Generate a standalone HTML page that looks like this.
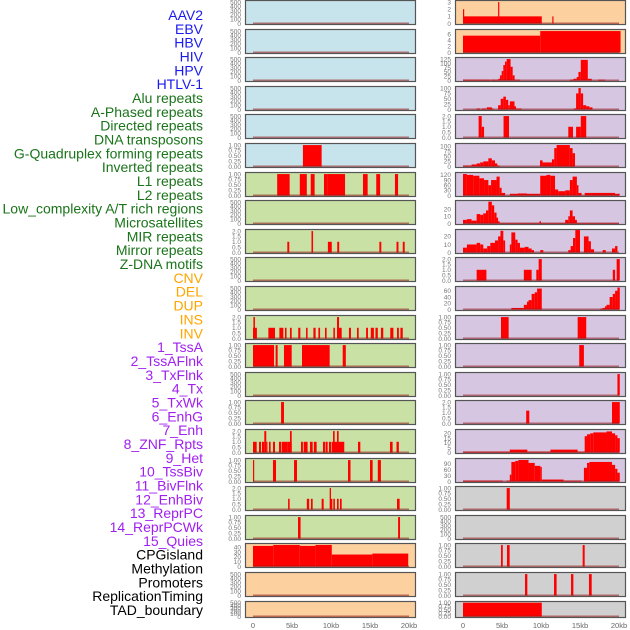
<!DOCTYPE html>
<html><head><meta charset="utf-8">
<style>
html,body{margin:0;padding:0;background:#fff;}
svg{display:block;font-family:"Liberation Sans",sans-serif;}
</style></head>
<body>
<svg id="chart" width="630" height="630" viewBox="0 0 630 630" xmlns="http://www.w3.org/2000/svg"></svg>
<script>
const trackLabels = ["AAV2","EBV","HBV","HIV","HPV","HTLV-1","Alu repeats","A-Phased repeats","Directed repeats","DNA transposons","G-Quadruplex forming repeats","Inverted repeats","L1 repeats","L2 repeats","Low_complexity A/T rich regions","Microsatellites","MIR repeats","Mirror repeats","Z-DNA motifs","CNV","DEL","DUP","INS","INV","1_TssA","2_TssAFlnk","3_TxFlnk","4_Tx","5_TxWk","6_EnhG","7_Enh","8_ZNF_Rpts","9_Het","10_TssBiv","11_BivFlnk","12_EnhBiv","13_ReprPC","14_ReprPCWk","15_Quies","CPGisland","Methylation","Promoters","ReplicationTiming","TAD_boundary"];
const labelGroups = ["v","v","v","v","v","v","r","r","r","r","r","r","r","r","r","r","r","r","r","c","c","c","c","c","s","s","s","s","s","s","s","s","s","s","s","s","s","s","s","o","o","o","o","o"];
const xTickValues = [0,5,10,15,20];
const xTickLabels = ["0","5kb","10kb","15kb","20kb"];

const T500 = [[0,"0"],[100,"100"],[200,"200"],[300,"300"],[400,"400"],[500,"500"]];
const T1 = [[0,"0.00"],[0.25,"0.25"],[0.5,"0.50"],[0.75,"0.75"],[1,"1.00"]];
const T2 = [[0,"0.0"],[0.5,"0.5"],[1,"1.0"],[1.5,"1.5"],[2,"2.0"]];

// left column panels: ymax, ticks, segments [startKb,endKb,value]
const leftYmax = [525,525,525,525,525,1.05,1.05,525,2.1,525,525,2.1,1.05,525,1.05,2.1,1.05,2.1,1.05,47,525,525];
const leftTicks = [T500,T500,T500,T500,T500,T1,T1,T500,T2,T500,T500,T2,T1,T500,T1,T2,T1,T2,T1,[[0,"0"],[10,"10"],[20,"20"],[30,"30"],[40,"40"]],T500,T500];
const leftSegs = [
[],[],[],[],[],
[[6.4,8.8,1]],
[[3.1,4.7,1],[6,6.9,1],[7.4,7.9,1],[9.1,9.6,1],[9.6,11.8,1],[14.1,14.7,1],[15.8,16.3,1],[18.2,18.6,1]],
[],
[[4.4,4.65,1],[7.5,7.7,2],[9.6,10.1,1],[10.8,11.05,1],[16.2,16.45,1],[18.4,18.65,1],[19.2,19.45,1]],
[],[],
[[0,0.5,1],[0.05,0.25,2],[1.97,2.82,1],[3.38,3.89,1],[4.1,4.3,1],[4.74,4.96,1],[5.8,6.07,1],[6.8,7.0,1],[7.74,8.03,1],[8.38,8.6,1],[9.23,9.44,1],[10.3,10.5,1],[10.77,11.37,1],[10.77,11.03,2],[12.3,12.56,1],[13.33,13.55,1],[14.5,14.74,1],[15.1,15.5,1],[15.7,16,1],[16.4,16.7,1],[17.6,18,1],[18.46,18.7,1],[18.9,19.2,1]],
[[0,2.7,1],[2.9,3.16,1],[3.97,4.96,1],[6.28,9.83,1],[11.5,11.9,1]],
[],
[[3.6,3.97,1]],
[[0,0.47,1],[0.77,1.03,1],[1.15,1.45,1],[1.45,1.7,2],[1.7,1.85,1],[2.05,2.26,1],[2.56,2.82,1],[3.33,3.6,1],[3.68,4.4,1],[4.4,4.96,1],[4.74,4.96,2],[6.15,6.4,1],[6.5,7,1],[7.3,7.65,1],[7.8,8.16,1],[8.97,9.23,1],[9.3,9.57,1],[9.74,10,1],[10.08,11.7,1],[10.26,10.47,2],[10.77,10.98,2],[13.46,13.76,1],[17.56,17.9,1],[18.4,18.7,1]],
[[0,0.15,1],[2.56,2.95,1],[5.26,5.64,1],[12.18,12.5,1],[15,15.34,1],[16,16.4,1]],
[[4.5,4.7,1],[6.9,7.2,1],[7.43,7.65,1],[8.8,9.06,1],[9.83,10,2],[10,10.17,1],[10.3,10.5,1],[10.77,10.98,1],[11.15,11.37,1],[18.46,18.8,1]],
[[5.77,6.1,1],[18.6,18.85,1]],
[[0,2.6,43],[2.6,6,45],[6,8,43],[8,10.1,45],[10.1,15.3,25],[15.3,19.9,27]],
[],[]
];

// right column panels
const rightYmax = [3.15,7.35,131,105,2.1,110,131,31,28,2.1,72,1.05,1.05,1.05,2.1,23.5,115,1.05,525,1.05,1.05,1.05];
const rightTicks = [
[[0,"0"],[1,"1"],[2,"2"],[3,"3"]],
[[0,"0"],[2,"2"],[4,"4"],[6,"6"]],
[[0,"0"],[25,"25"],[50,"50"],[75,"75"],[100,"100"],[125,"125"]],
[[0,"0"],[25,"25"],[50,"50"],[75,"75"],[100,"100"]],
T2,
[[0,"0"],[25,"25"],[50,"50"],[75,"75"],[100,"100"]],
[[0,"0"],[30,"30"],[60,"60"],[90,"90"],[120,"120"]],
[[0,"0"],[10,"10"],[20,"20"]],
[[0,"0"],[10,"10"],[20,"20"]],
T2,
[[0,"0"],[20,"20"],[40,"40"],[60,"60"]],
T1,T1,T1,T2,
[[0,"0"],[5,"5"],[10,"10"],[15,"15"],[20,"20"]],
[[0,"0"],[30,"30"],[60,"60"],[90,"90"]],
T1,T500,T1,T1,T1
];
const rightSegs = [
[[0,10.1,1],[0,0.15,2],[4.5,4.62,3],[11.45,11.6,1]],
[[0,9.9,5.5],[9.9,20.2,7]],
[[0,3.5,5],[3.6,4.53,5],[4.53,4.74,10],[4.74,4.96,30],[4.96,5.17,55],[5.17,5.38,90],[5.38,5.6,110],[5.6,6.1,125],[6.1,6.37,80],[6.37,6.62,30],[6.62,7.3,5],[13.7,14.15,5],[14.15,14.57,10],[14.57,14.8,20],[14.8,15.1,50],[15.1,16,120],[16,16.5,10],[17.3,18.2,5]],
[[1.75,2.2,5],[2.4,2.95,5],[3.03,3.7,10],[3.7,3.9,5],[4.5,4.83,20],[4.83,5.17,50],[5.17,5.5,60],[5.5,5.8,45],[5.8,6.0,20],[6.0,6.6,38],[6.6,6.8,15],[6.8,7.5,5],[14.2,14.5,5],[14.5,14.8,75],[14.8,15.1,100],[15.1,15.4,75],[15.4,15.8,20],[15.8,16.2,15],[16.2,16.6,10]],
[[2,2.4,2],[2.4,2.7,1],[5.2,5.9,2],[13.5,14.1,1],[14.5,15.1,1],[15.1,15.8,2]],
[[0,1.1,5],[1.1,1.75,10],[1.75,2.2,15],[2.2,2.6,20],[2.6,3.25,25],[3.25,3.7,40],[3.7,4.1,30],[4.1,4.4,15],[4.4,4.7,5],[9.87,10.2,30],[10.2,11.4,20],[11.4,11.7,35],[11.7,12,90],[12,13.7,105],[13.7,14.05,90],[14.05,14.36,65]],
[[0,0.5,125],[0.5,1.3,120],[1.3,2.1,115],[2.1,2.7,100],[2.7,3.25,90],[3.25,3.6,60],[3.6,4.3,90],[4.3,4.7,110],[4.7,4.95,45],[4.95,5.4,15],[6,7,10],[7,8.2,12],[8.2,9.9,10],[9.9,10.7,115],[10.7,11.2,120],[11.2,11.8,115],[11.8,12.2,35],[12.2,13.1,25],[13.1,13.7,30],[13.7,14.05,90],[14.05,14.6,110],[14.6,14.8,60],[14.8,15.2,15],[15.6,19.5,15],[19.5,20.1,10]],
[[0,0.5,5],[0.5,1.1,6],[1.1,1.75,4],[1.75,2.2,13],[2.2,2.6,12],[2.6,2.95,14],[2.95,3.25,18],[3.25,3.7,30],[3.7,4.0,25],[4.0,4.3,15],[4.3,4.5,8],[4.5,4.7,3],[4.7,20,0.8],[9.8,10.0,3],[13.1,13.5,5],[13.5,13.7,10],[13.7,14.05,18],[14.05,14.36,10],[14.36,14.6,5]],
[[0,0.5,6],[0.5,1.75,10],[1.75,2.2,12],[2.2,2.6,10],[2.6,3.1,5],[3.1,3.5,8],[3.5,4.1,12],[4.1,4.5,15],[4.5,4.8,20],[4.8,5.17,27],[5.17,5.4,15],[6.0,6.2,10],[6.2,6.7,25],[6.7,7,16],[7,7.3,12],[7.3,7.9,6],[7.9,8.4,7],[8.4,8.8,5],[8.8,9.1,3],[9.9,10.3,3],[13.5,13.8,3],[13.8,14.1,8],[14.1,14.4,18],[14.4,15,28],[15.5,16.1,20],[16.1,16.4,14],[16.4,16.8,4],[17.9,18.3,3],[19.1,19.5,5],[19.5,19.8,8]],
[[1.75,3.0,1],[7.8,8.8,1],[9.4,9.7,1],[9.7,10.1,2],[19.2,19.5,1],[19.7,20.1,2]],
[[6.2,7.8,5],[7.8,8.2,15],[8.2,8.4,25],[8.4,8.8,30],[8.8,9.2,50],[9.2,9.5,55],[9.5,10.1,67],[17.6,17.9,3],[17.9,18.2,5],[18.2,18.4,10],[18.4,18.8,15],[18.8,19.2,40],[19.2,19.5,50],[19.5,19.8,60],[19.8,20.1,70]],
[[4.87,5.85,1],[14.7,15.8,1]],
[[14.9,15.5,1]],
[[19.8,20.1,1]],
[[8.1,8.5,1.2],[19.1,20.1,2]],
[[0,6,1],[6,8.25,3],[8.25,11.2,1],[11.2,14.7,3],[14.7,15.6,1],[15.6,15.9,17],[15.9,16.3,19],[16.3,16.7,20],[16.7,18.4,21],[18.4,19.1,22],[19.1,19.5,20],[19.5,19.8,18],[19.8,20.1,15]],
[[0,5.1,5],[5.6,6.0,5],[6.0,6.2,35],[6.2,6.7,100],[6.7,7.1,105],[7.1,8.4,110],[8.4,9.2,95],[9.2,9.9,80],[9.9,10.1,75],[10.1,12.9,10],[12.9,15.2,5],[15.5,15.9,70],[15.9,16.2,95],[16.2,19.1,100],[19.1,19.5,85],[19.5,19.8,65],[19.8,20.1,45]],
[[5.6,6.0,1]],
[],
[[4.87,5.1,1],[5.64,5.98,1],[15.34,15.6,1]],
[[7.95,8.25,1],[11.67,12,1],[13.85,14.15,1],[16.15,16.5,1]],
[[0,10.1,1]]
];

const leftBg = ["#c7e3eb","#c7e3eb","#c7e3eb","#c7e3eb","#c7e3eb","#c7e3eb","#c9e1a5","#c9e1a5","#c9e1a5","#c9e1a5","#c9e1a5","#c9e1a5","#c9e1a5","#c9e1a5","#c9e1a5","#c9e1a5","#c9e1a5","#c9e1a5","#c9e1a5","#fdd09f","#fdd09f","#fdd09f"];
const rightBg = ["#fdd09f","#fdd09f","#d6c6e2","#d6c6e2","#d6c6e2","#d6c6e2","#d6c6e2","#d6c6e2","#d6c6e2","#d6c6e2","#d6c6e2","#d6c6e2","#d6c6e2","#d6c6e2","#d6c6e2","#d6c6e2","#d6c6e2","#d0d0d0","#d0d0d0","#d0d0d0","#d0d0d0","#d0d0d0"];

const NS = "http://www.w3.org/2000/svg";
const svg = document.getElementById("chart");
function mk(tag, attrs, parent){
  const e = document.createElementNS(NS, tag);
  for (const k in attrs) e.setAttribute(k, attrs[k]);
  (parent||svg).appendChild(e);
  return e;
}
const colColors = {v:"#1a1aee", r:"#1a741a", c:"#ffa500", s:"#a020f0", o:"#000000"};

// labels
const labelG = mk("g", {});


trackLabels.forEach((t,i)=>{
  const y = 15 + i*(595/43);
  const el = mk("text", {x:203, y:y+5, "text-anchor":"end", "font-size":"14", fill:colColors[labelGroups[i]]}, labelG);
  el.textContent = t;
  
  
});

function rowTop(i){ return Math.round(i*28.6); }
function rowH(i){ return i===21 ? 17 : 25; }

function drawPanel(side, i, x0, bg, ymax, ticks, segs){
  const top = rowTop(i), h = rowH(i), w = 171;
  const g = mk("g", {});
  
  
  const xs = kb => x0 + 8 + kb*7.8;
  const ys = v => top + h - 1.5 - (v/ymax)*(h-2.5);
  const bgR = mk("rect", {x:x0, y:top, width:w, height:h, fill:bg}, g);
  
  
  segs.forEach(s=>{
    const yv = ys(s[2]);
    const b = mk("rect", {x:xs(s[0]), y:yv, width:Math.max(1.2, xs(s[1])-xs(s[0])), height:ys(0)-yv, fill:"#ff0000"}, g);
    
    
  });
  const bl = mk("line", {x1:xs(0), x2:xs(20), y1:ys(0), y2:ys(0), stroke:"rgba(150,20,20,0.55)", "stroke-width":"2"}, g);
  
  
  const br = mk("rect", {x:x0+0.5, y:top+0.5, width:w-1, height:h-1, fill:"none", stroke:"#555", "stroke-width":"1.2"}, g);
  
  
  ticks.forEach(t=>{
    const tx = mk("text", {x:x0-4, y:ys(t[0])+2.3, "text-anchor":"end", "font-size":"6.5", fill:"#777"}, g);
    tx.textContent = t[1];
    
    
  });
}
for (let i=0;i<22;i++){
  drawPanel("left", i, 245, leftBg[i], leftYmax[i], leftTicks[i], leftSegs[i]);
  drawPanel("right", i, 455, rightBg[i], rightYmax[i], rightTicks[i], rightSegs[i]);
}
[245,455].forEach((x0,ci)=>{
  xTickValues.forEach((v,k)=>{
    const t = mk("text", {x:x0+8+v*7.8, y:628, "text-anchor":"middle", "font-size":"7.5", fill:"#666"});
    t.textContent = xTickLabels[k];
    
    
  });
});
</script>
</body></html>
